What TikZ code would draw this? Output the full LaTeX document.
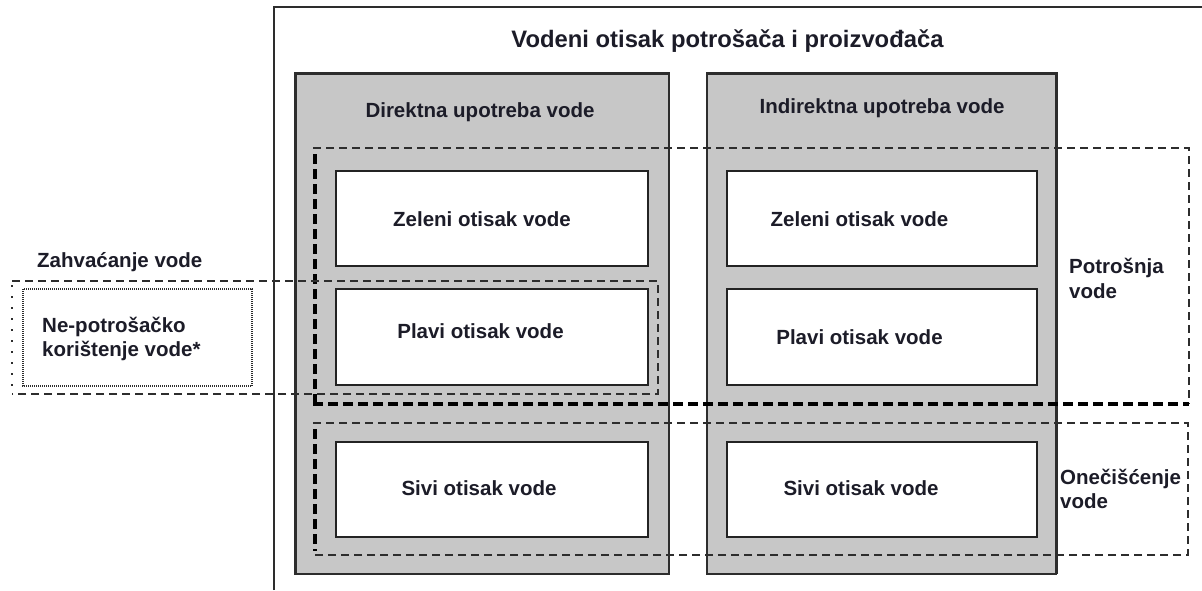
\documentclass[tikz,border=0pt]{standalone}
\usepackage{fontspec}
\setmainfont{Liberation Sans}
\definecolor{panelgray}{RGB}{199,199,199}
\definecolor{linegray}{RGB}{45,45,45}
\definecolor{boxline}{RGB}{35,35,35}
\definecolor{txt}{RGB}{28,28,40}
\begin{document}
\begin{tikzpicture}[x=1pt,y=-1pt,
  frame/.style={draw=linegray, line width=1.4pt},
  panel/.style={fill=panelgray, draw=linegray, line width=1.2pt},
  panelthick/.style={draw=linegray, line width=3pt},
  wbox/.style={fill=white, draw=boxline, line width=1.6pt},
  wshadow/.style={draw=boxline, line width=2.6pt},
  thindash/.style={draw=linegray, line width=1.4pt, dash pattern=on 8pt off 5pt},
  thickdash/.style={draw=black, line width=3.4pt, dash pattern=on 10pt off 5pt},
  sparsedash/.style={draw=linegray, line width=1.3pt, dash pattern=on 2pt off 9pt},
  dotbox/.style={draw=linegray, line width=1.1pt, dash pattern=on 1pt off 1pt},
  lbl/.style={font=\bfseries\fontsize{20.5}{24}\selectfont, text=txt, inner sep=0pt, anchor=base},
  lbll/.style={font=\bfseries\fontsize{20.5}{24}\selectfont, text=txt, inner sep=0pt, anchor=base west, align=left},
  ttl/.style={font=\bfseries\fontsize{23.8}{28}\selectfont, text=txt, inner sep=0pt, anchor=base}
]
\useasboundingbox (0,0) rectangle (1202,590);
\fill[white] (0,0) rectangle (1202,590);

% outer frame
\draw[frame] (274,590) -- (274,7) -- (1202,7);

% gray panels
\path[panel] (295,73) rectangle (669,574);
\draw[panelthick] (295,574) -- (295,73) -- (669,73);
\path[panel] (707,73) rectangle (1056,574);
\draw[panelthick] (707,73) -- (1056,73) -- (1056,574);

% white boxes (left column)
\path[wbox] (336,171) rectangle (648,266);
\draw[wshadow] (648,171) -- (648,266);
\path[wbox] (336,289) rectangle (648,385);
\draw[wshadow] (648,289) -- (648,385);
\path[wbox] (336,442) rectangle (648,537);
\draw[wshadow] (648,442) -- (648,537);
% white boxes (right column)
\path[wbox] (727,171) rectangle (1037,266);
\draw[wshadow] (1037,171) -- (1037,266);
\path[wbox] (727,289) rectangle (1037,385);
\draw[wshadow] (1037,289) -- (1037,385);
\path[wbox] (727,442) rectangle (1037,537);
\draw[wshadow] (1037,442) -- (1037,537) -- (727,537);

% Potrosnja vode (dashed region)
\draw[thindash] (313,148) -- (1189,148) -- (1189,404);
\draw[thickdash] (313,404) -- (1189,404);
\draw[thickdash] (315,154) -- (315,404);

% Onecisćenje vode (dashed region)
\draw[thindash] (313,423) -- (1188,423) -- (1188,555) -- (313,555);
\draw[thickdash] (315,429) -- (315,551);

% Zahvacanje vode (dashed region)
\draw[thindash] (12,281) -- (658,281) -- (658,394) -- (12,394);
\draw[sparsedash] (12,285) -- (12,392);
\draw[dotbox] (23,289) rectangle (252,386);

% texts
\node[ttl] (title) at (727.5,47) {Vodeni otisak potrošača i proizvođača};
\node[lbl] (direkt) at (480,117) {Direktna upotreba vode};
\node[lbl] (indirekt) at (882,113) {Indirektna upotreba vode};
\node[lbl] (zelL) at (482,226) {Zeleni otisak vode};
\node[lbl] (plaL) at (480.5,338) {Plavi otisak vode};
\node[lbl] (sivL) at (479,495) {Sivi otisak vode};
\node[lbl] (zelR) at (859.5,226) {Zeleni otisak vode};
\node[lbl] (plaR) at (859.5,344) {Plavi otisak vode};
\node[lbl] (sivR) at (861,495) {Sivi otisak vode};
\node[lbll] (potr) at (1069,298) {Potrošnja\\[0.5pt]vode};
\node[lbll] (onec) at (1060,508) {Onečišćenje\\vode};
\node[lbll] (zahv) at (37,267) {Zahvaćanje vode};
\node[lbll] (nepot) at (42,356) {Ne-potrošačko\\korištenje vode*};
\end{tikzpicture}
\end{document}
